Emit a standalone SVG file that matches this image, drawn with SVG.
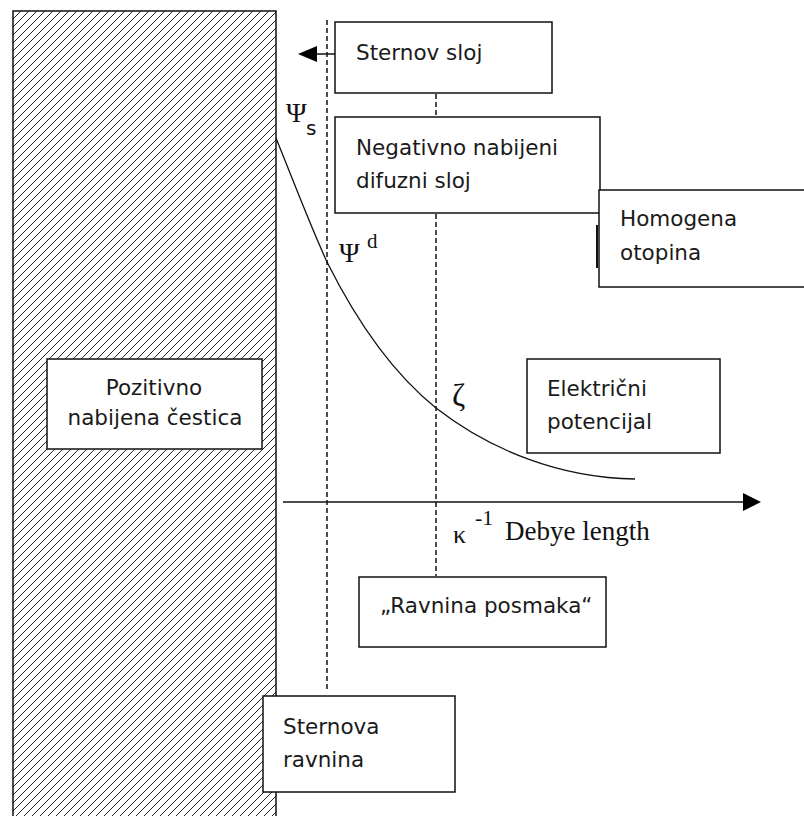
<svg xmlns="http://www.w3.org/2000/svg" width="804" height="816" viewBox="0 0 804 816">
<defs>
<pattern id="hatch" patternUnits="userSpaceOnUse" width="8" height="8">
<path d="M-1,1 L1,-1 M0,8 L8,0 M7,9 L9,7" stroke="#222" stroke-width="1" shape-rendering="crispEdges"/>
</pattern>
</defs>
<style>
.box{fill:#fff;stroke:#111;stroke-width:1.5}
.t{font-family:"DejaVu Sans",sans-serif;font-size:21.5px;fill:#1a1a1a}
.s{font-family:"Liberation Serif",serif;fill:#111}
.dash{stroke:#111;stroke-width:1.5;stroke-dasharray:5,3;fill:none}
.ln{stroke:#111;stroke-width:1.3;fill:none}
</style>
<rect id="particle" x="13" y="11" width="263" height="820" fill="url(#hatch)" stroke="#111" stroke-width="1.5"/>
<g id="connectors">
<line class="dash" x1="327" y1="20" x2="327" y2="690"/>
<line class="dash" x1="436" y1="22" x2="436" y2="576"/>
<path class="ln" d="M276,138 C293,180 310,225 327,262 C363,334 400,379 436,408 C490,450 560,478 635,479"/>
<line x1="283" y1="502" x2="745" y2="502" stroke="#111" stroke-width="1.5"/>
<path d="M743,493 L761,502 L743,511 Z" fill="#000"/>
<line x1="315" y1="54" x2="335" y2="54" stroke="#111" stroke-width="1.5"/>
<path d="M298,54 L317,46 L317,62 Z" fill="#000"/>
<line x1="597" y1="225" x2="597" y2="268" stroke="#111" stroke-width="2"/>
</g>
<g id="sternov-sloj">
<rect class="box" x="335" y="22" width="217" height="71"/>
<text class="t" x="356" y="60">Sternov sloj</text>
</g>
<g id="negativno">
<rect class="box" x="335" y="117" width="265" height="96"/>
<text class="t" x="356" y="155">Negativno nabijeni</text>
<text class="t" x="356" y="188">difuzni sloj</text>
</g>
<g id="homogena">
<rect class="box" x="599" y="190" width="215" height="97"/>
<text class="t" x="620" y="226">Homogena</text>
<text class="t" x="620" y="260">otopina</text>
</g>
<g id="pozitivno">
<rect class="box" x="47" y="359" width="215" height="90"/>
<text class="t" x="154" y="395" text-anchor="middle">Pozitivno</text>
<text class="t" x="155" y="425" text-anchor="middle">nabijena čestica</text>
</g>
<g id="elektricni">
<rect class="box" x="527" y="359" width="193" height="94"/>
<text class="t" x="547" y="396">Električni</text>
<text class="t" x="547" y="429">potencijal</text>
</g>
<g id="ravnina-posmaka">
<rect class="box" x="359" y="577" width="247" height="70"/>
<text class="t" x="380" y="613">„Ravnina posmaka“</text>
</g>
<g id="sternova-ravnina">
<rect class="box" x="263" y="696" width="192" height="96"/>
<text class="t" x="283" y="734">Sternova</text>
<text class="t" x="283" y="767">ravnina</text>
</g>
<g id="labels">
<text class="s" x="286" y="122" font-size="28">Ψ</text>
<text x="306" y="135" font-family="DejaVu Sans,sans-serif" font-size="20" fill="#111">s</text>
<text class="s" x="339" y="262" font-size="28">Ψ</text>
<text class="s" x="367" y="248" font-size="21">d</text>
<text class="s" x="452" y="406" font-size="32">ζ</text>
<text class="s" x="453" y="543" font-size="26">κ</text>
<text class="s" x="475" y="525" font-size="22">-1</text>
<text class="s" x="505" y="540" font-size="27">Debye length</text>
</g>
</svg>
